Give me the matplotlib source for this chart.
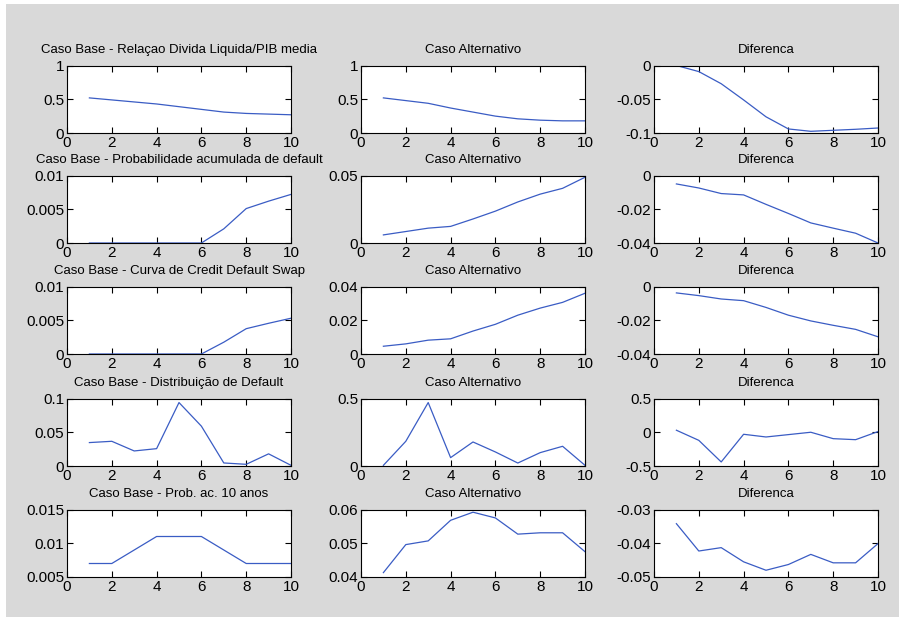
import numpy as np
import matplotlib
matplotlib.use('Agg')
import matplotlib.pyplot as plt
from matplotlib.patches import Rectangle
from matplotlib.ticker import FuncFormatter

plt.rcParams['font.family'] = ['Liberation Sans', 'DejaVu Sans']

anos = np.arange(1, 11)

# linha 1 - relacao divida liquida / PIB
divida_base = [0.52, 0.49, 0.46, 0.43, 0.39, 0.35, 0.31, 0.29, 0.28, 0.27]
divida_alt = [0.52, 0.48, 0.44, 0.37, 0.31, 0.25, 0.21, 0.19, 0.18, 0.18]
divida_dif = [0.0, -0.009, -0.027, -0.051, -0.076, -0.094, -0.0975, -0.096, -0.0945, -0.0926]

# linha 2 - probabilidade acumulada de default
prob_base = [0, 0, 0, 0, 0, 0, 0.0021, 0.0051, 0.0062, 0.0072]
prob_alt = [0.006, 0.0085, 0.011, 0.0123, 0.0178, 0.0236, 0.0304, 0.0362, 0.0405, 0.0487]
prob_dif = [-0.005, -0.0074, -0.0107, -0.0115, -0.0171, -0.0225, -0.0281, -0.0312, -0.0342, -0.040]

# linha 3 - curva de CDS
cds_base = [0, 0, 0, 0, 0, 0, 0.00175, 0.00375, 0.00455, 0.0053]
cds_alt = [0.0046, 0.006, 0.0082, 0.009, 0.0136, 0.0176, 0.023, 0.0272, 0.0306, 0.036]
cds_dif = [-0.0038, -0.0054, -0.0074, -0.0084, -0.0124, -0.017, -0.0204, -0.023, -0.0254, -0.0298]

# linha 4 - distribuicao de default
dist_base = [0.0347, 0.0366, 0.0223, 0.0257, 0.094, 0.059, 0.0045, 0.0025, 0.018, 0.001]
dist_alt = [0.005, 0.183, 0.47, 0.062, 0.178, 0.104, 0.022, 0.099, 0.146, 0.005]
dist_dif = [0.03, -0.12, -0.44, -0.03, -0.07, -0.035, 0.0, -0.095, -0.11, 0.01]

# linha 5 - prob. acumulada 10 anos
p10_base = [0.007, 0.007, 0.009, 0.011, 0.011, 0.011, 0.009, 0.007, 0.007, 0.007]
p10_alt = [0.0413, 0.0496, 0.0507, 0.0568, 0.0592, 0.0575, 0.0527, 0.0531, 0.0531, 0.0475]
p10_dif = [-0.0342, -0.0423, -0.0413, -0.0455, -0.048, -0.0463, -0.0433, -0.0458, -0.0458, -0.0401]

titulos = [
    ['Caso Base - Relaçao Divida Liquida/PIB media', 'Caso Alternativo', 'Diferenca'],
    ['Caso Base - Probabilidade acumulada de default', 'Caso Alternativo', 'Diferenca'],
    ['Caso Base - Curva de Credit Default Swap', 'Caso Alternativo', 'Diferenca'],
    ['Caso Base - Distribuição de Default', 'Caso Alternativo', 'Diferenca'],
    ['Caso Base - Prob. ac. 10 anos', 'Caso Alternativo', 'Diferenca'],
]
series = [
    [divida_base, divida_alt, divida_dif],
    [prob_base, prob_alt, prob_dif],
    [cds_base, cds_alt, cds_dif],
    [dist_base, dist_alt, dist_dif],
    [p10_base, p10_alt, p10_dif],
]
# marcas do eixo y (primeira e ultima = limites)
yticks = [
    [[0, 0.5, 1], [0, 0.5, 1], [-0.1, -0.05, 0]],
    [[0, 0.005, 0.01], [0, 0.05], [-0.04, -0.02, 0]],
    [[0, 0.005, 0.01], [0, 0.02, 0.04], [-0.04, -0.02, 0]],
    [[0, 0.05, 0.1], [0, 0.5], [-0.5, 0, 0.5]],
    [[0.005, 0.01, 0.015], [0.04, 0.05, 0.06], [-0.05, -0.04, -0.03]],
]
xticks = [0, 2, 4, 6, 8, 10]

W, H = 905, 618
fig = plt.figure(figsize=(W / 100, H / 100), dpi=100, facecolor='white')
fundo = Rectangle((6 / W, 1 / H), 893 / W, 613 / H, transform=fig.transFigure,
                  facecolor='#d9d9d9', edgecolor='none', zorder=-10)
fig.add_artist(fundo)

lefts = [67, 361, 654]
bottoms = [133, 243, 354, 466, 577]
aw, ah = 224, 67.5
fmt = FuncFormatter(lambda v, p: '%g' % round(v, 6))

for i in range(5):
    for j in range(3):
        ax = fig.add_axes([lefts[j] / W, 1 - bottoms[i] / H, aw / W, ah / H])
        ax.set_facecolor('white')
        ax.plot(anos, series[i][j], color='#3a5cc4', lw=0.9)
        yt = yticks[i][j]
        ax.set_xlim(xticks[0], xticks[-1])
        ax.set_ylim(yt[0], yt[-1])
        ax.set_xticks(xticks)
        ax.set_yticks(yt)
        ax.yaxis.set_major_formatter(fmt)
        ax.tick_params(direction='in', top=True, right=True, length=4, width=0.8,
                       labelsize=11, colors='black', pad=2)
        for s in ax.spines.values():
            s.set_linewidth(0.8)
        ax.set_title(titulos[i][j], fontsize=9.5, pad=9)

fig.savefig('out.png', dpi=100, facecolor=fig.get_facecolor())
